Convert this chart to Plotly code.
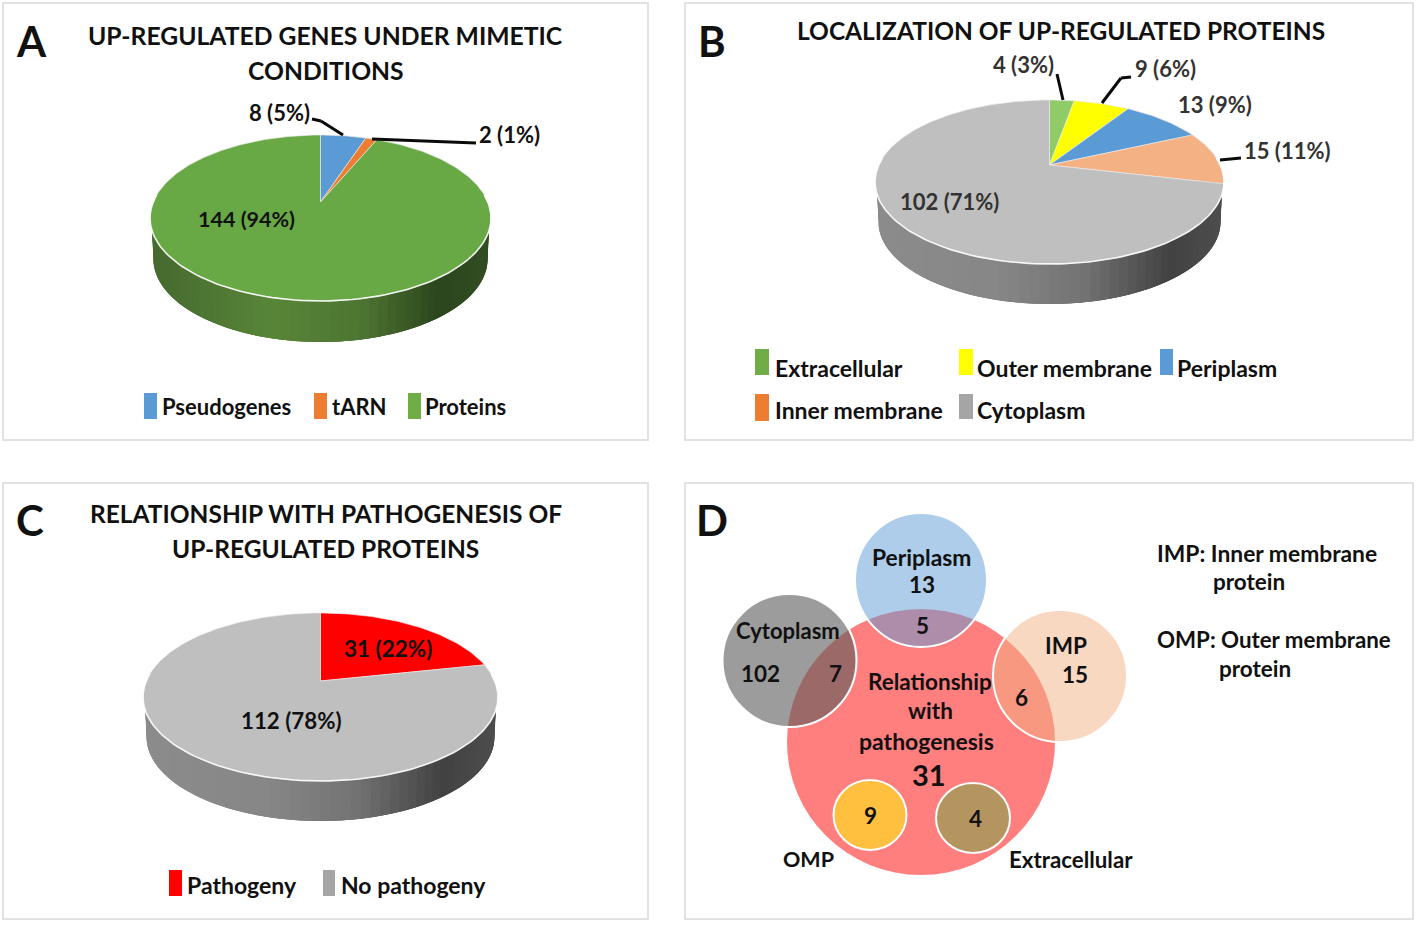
import numpy as np
import plotly.graph_objects as go

# ---------- data ----------
a_labels = ["Pseudogenes", "tARN", "Proteins"]
a_values = [8, 2, 144]
a_percents = [5, 1, 94]
a_colors = ["#5b9bd5", "#ed7d31", "#69a945"]
a_legend_colors = ["#5b9bd5", "#ed7d31", "#70ad47"]

b_labels = ["Extracellular", "Outer membrane", "Periplasm", "Inner membrane", "Cytoplasm"]
b_values = [4, 9, 13, 15, 102]
b_percents = [3, 6, 9, 11, 71]
b_colors = ["#8fcb66", "#ffff00", "#5b9bd5", "#f4b183", "#bfbfbf"]
b_legend_colors = ["#70ad47", "#ffff00", "#5b9bd5", "#ed7d31", "#a5a5a5"]

c_labels = ["Pathogeny", "No pathogeny"]
c_values = [31, 112]
c_percents = [22, 78]
c_colors = ["#ff0000", "#bfbfbf"]
c_legend_colors = ["#ff0000", "#a5a5a5"]

FONT = "Lato"
INK = "#111111"
W, H = 1418, 925

fig = go.Figure()
shapes, notes = [], []


def text(x, y, s, size=22.5, anchor="center", color=INK, weight=700):
    if anchor == "left":
        x -= 2
    notes.append(dict(x=x, y=y - 0.5, text=s, showarrow=False, xanchor=anchor, yanchor="middle",
                      font=dict(family=FONT, size=size, color=color, weight=weight)))


def leader(points):
    for (x0, y0), (x1, y1) in zip(points[:-1], points[1:]):
        shapes.append(dict(type="line", x0=x0, y0=y0, x1=x1, y1=y1,
                           line=dict(color="#0a0a0a", width=3)))


def poly(x, y, fill, line=None, lw=0.0):
    fig.add_trace(go.Scatter(x=list(x), y=list(y), mode="lines", fill="toself", fillcolor=fill,
                             line=dict(color=line or fill, width=lw), hoverinfo="skip",
                             showlegend=False))


def mix(stops, t):
    xs = [s[0] for s in stops]
    rgb = [np.interp(t, xs, [s[1][i] for s in stops]) for i in range(3)]
    return "rgb(%d,%d,%d)" % tuple(rgb)


def pie3d(values, colors, apex, left, right, top, bottom, depth, side_stops):
    ax, ay = apex
    front, back = bottom - ay, ay - top
    k = (front - back) / (front + back)
    b = front * (1 - k)
    a = (right - left) / 2 * np.sqrt(1 - k * k)

    def proj(theta):
        u, v = np.sin(theta), -np.cos(theta)
        d = 1 - k * v
        return a * u / d, b * v / d

    # side wall: each strip runs on under the next one, so no seams show
    edges = np.radians(np.linspace(55, 305, 91))
    for i, t0 in enumerate(edges[:-1]):
        ts = np.linspace(t0, edges[min(i + 3, len(edges) - 1)], 6)
        X, Y = proj(ts)
        sx = np.r_[ax + X * 0.99, ax + X[::-1] * 0.98]
        sy = np.r_[ay + Y, ay + Y[::-1] + depth]
        X0, _ = proj(np.array([t0, edges[i + 1]]))
        tm = (X0.mean() + (right - left) / 2) / (right - left)
        poly(sx, sy, mix(side_stops, float(np.clip(tm, 0, 1))))
    # top slices, sized from the values
    frac = np.cumsum([0] + list(values)) / np.sum(values)
    for f0, f1, col in zip(frac[:-1], frac[1:], colors):
        ts = np.linspace(f0, f1, max(4, int((f1 - f0) * 360))) * 2 * np.pi
        X, Y = proj(ts)
        poly(np.r_[ax, ax + X, ax], np.r_[ay, ay + Y, ay], col, "rgba(235,235,235,0.8)", 0.8)
    # light rim on the front edge
    ts = np.radians(np.linspace(85, 275, 120))
    X, Y = proj(ts)
    fig.add_trace(go.Scatter(x=ax + X, y=ay + Y, mode="lines", hoverinfo="skip", showlegend=False,
                             line=dict(color="rgba(255,255,255,0.85)", width=1.6)))


def legend_key(x0, x1, y0, y1, color):
    shapes.append(dict(type="rect", x0=x0, x1=x1, y0=y0, y1=y1, fillcolor=color, line=dict(width=0)))


def panel(x0, y0, x1, y1):
    shapes.append(dict(type="rect", x0=x0, x1=x1, y0=y0, y1=y1, layer="below",
                       fillcolor="white", line=dict(color="#e2e2e2", width=2)))


panel(3, 3, 648, 440)
panel(685, 3, 1413, 440)
panel(3, 483, 648, 919)
panel(685, 483, 1413, 919)

GREEN = [(0, (70, 105, 48)), (0.35, (88, 134, 56)), (0.62, (78, 118, 50)), (0.85, (44, 70, 30)), (1, (50, 78, 34))]
GREY = [(0, (140, 140, 140)), (0.35, (135, 135, 135)), (0.6, (115, 115, 115)), (0.85, (66, 66, 66)), (1, (78, 78, 78))]

# ---------- panel A ----------
pie3d(a_values, a_colors, (320.5, 202), 150, 491, 135, 301, 41, GREEN)
text(31, 41, "A", 42)
text(325.5, 36, "UP-REGULATED GENES UNDER MIMETIC", 24.7)
text(325.5, 71, "CONDITIONS", 24.7)
text(279, 113, f"{a_values[0]} ({a_percents[0]}%)", 22)
text(509, 135, f"{a_values[1]} ({a_percents[1]}%)", 22)
text(246, 219, f"{a_values[2]} ({a_percents[2]}%)", 21.5)
leader([(312, 119), (321, 121), (343, 135)])
leader([(372, 139), (476, 143)])
for (x0, x1, tx), lab, col in zip([(144, 157, 162), (314, 327, 332), (408, 421, 425)], a_labels, a_legend_colors):
    legend_key(x0, x1, 393, 419, col)
    text(tx, 407, lab, 22, anchor="left")

# ---------- panel B ----------
pie3d(b_values, b_colors, (1049.5, 165), 875, 1224, 100, 264, 40, GREY)
text(712, 41, "B", 42)
text(1061, 31, "LOCALIZATION OF UP-REGULATED PROTEINS", 24.5)
GR = "#333333"
for (x, y), v, p in zip([(1023, 65), (1165, 69), (1215, 105), (1287, 151), (949, 202)], b_values, b_percents):
    text(x, y, f"{v} ({p}%)", 22, color=GR)
leader([(1057, 74), (1063, 100)])
leader([(1131, 77), (1121, 78), (1102, 103)])
leader([(1241, 158), (1220, 160)])
b_pos = [(755, 769, 775, 349, 375, 368), (959, 973, 977, 349, 375, 368), (1160, 1173, 1177, 349, 375, 368),
         (755, 769, 775, 394, 421, 410), (959, 973, 977, 394, 419, 410)]
for (x0, x1, tx, y0, y1, ty), lab, col in zip(b_pos, b_labels, b_legend_colors):
    legend_key(x0, x1, y0, y1, col)
    text(tx, ty, lab, 23, anchor="left")

# ---------- panel C ----------
pie3d(c_values, c_colors, (320.5, 681), 143, 498, 613, 781, 40, GREY)
text(30, 520, "C", 42)
text(325.5, 514, "RELATIONSHIP WITH PATHOGENESIS OF", 24.5)
text(325.5, 549, "UP-REGULATED PROTEINS", 24.5)
text(388, 649, f"{c_values[0]} ({c_percents[0]}%)", 22.5)
text(291, 721, f"{c_values[1]} ({c_percents[1]}%)", 22.3)
for (x0, x1, tx), lab, col in zip([(169, 182, 187), (323, 335, 341)], c_labels, c_legend_colors):
    legend_key(x0, x1, 870, 896, col)
    text(tx, 885, lab, 23, anchor="left")

# ---------- panel D ----------
text(712, 520, "D", 42)
venn = [
    (921, 742, 134, 133, "rgba(255,0,0,0.5)", None),
    (921, 580, 66, 67, "rgba(91,155,213,0.5)", "white"),
    (789.5, 660.5, 67, 66.5, "rgba(90,90,90,0.6)", "white"),
    (1060, 676, 67, 66, "rgba(244,177,131,0.5)", "white"),
    (870, 815, 36.5, 35, "rgb(255,192,64)", "white"),
    (973, 818, 37, 35, "rgb(181,149,95)", "white"),
]
for cx, cy, rx, ry, col, edge in venn:
    shapes.append(dict(type="circle", x0=cx - rx, x1=cx + rx, y0=cy - ry, y1=cy + ry, fillcolor=col,
                       line=dict(color=edge or col, width=2 if edge else 0)))
text(921, 557, "Periplasm", 22.8)
text(922, 585, "13")
text(922, 626, "5")
text(788, 631, "Cytoplasm", 22)
text(760, 674, "102")
text(835, 674, "7")
text(930, 682, "Relationship")
text(930, 711, "with")
text(926, 741, "pathogenesis", 23)
text(929, 775, "31", 29)
text(870, 816, "9")
text(975, 819, "4")
text(1066, 646, "IMP")
text(1075, 675, "15")
text(1021, 698, "6")
text(808, 859, "OMP", 21.5)
text(1071, 860, "Extracellular", 22.3)
text(1157, 553, "IMP: Inner membrane", 22.8, anchor="left")
text(1249, 582, "protein")
text(1157, 640, "OMP: Outer membrane", 22.3, anchor="left")
text(1255, 669, "protein")

fig.update_layout(
    width=W, height=H, margin=dict(l=0, r=0, t=0, b=0), paper_bgcolor="white", plot_bgcolor="white",
    showlegend=False, shapes=shapes, annotations=notes,
    xaxis=dict(range=[0, W], visible=False, fixedrange=True),
    yaxis=dict(range=[H, 0], visible=False, fixedrange=True),
)
fig.write_html("out.html", config={"displayModeBar": False},
               post_script="document.body.style.margin='0';")
